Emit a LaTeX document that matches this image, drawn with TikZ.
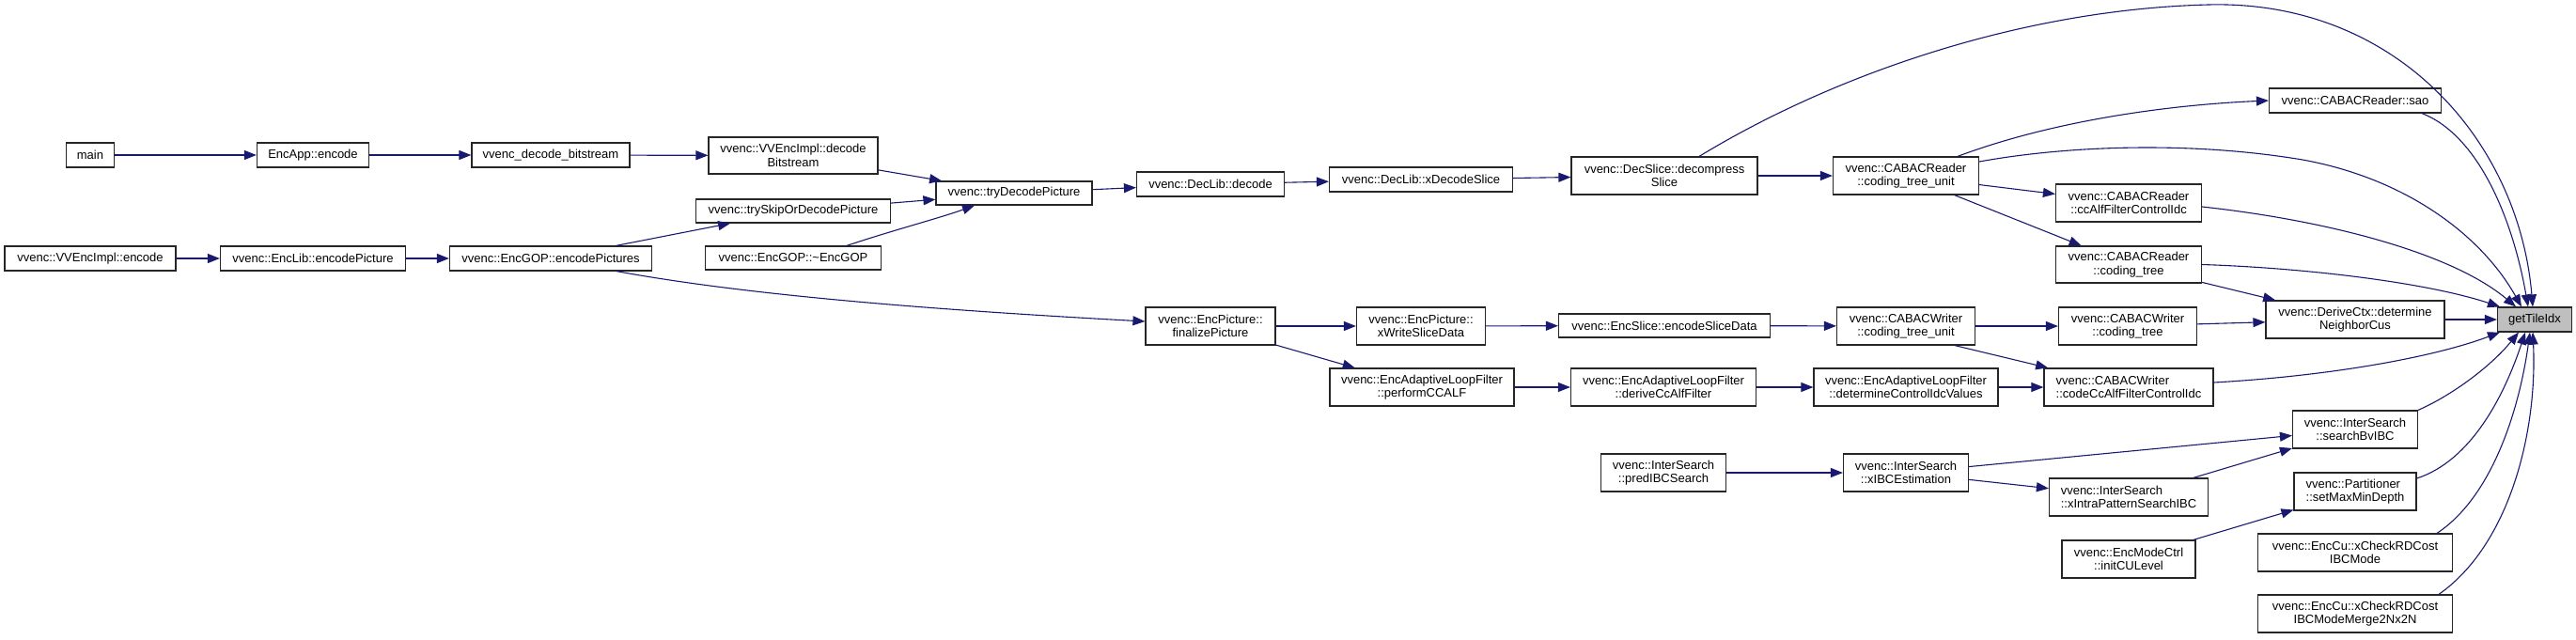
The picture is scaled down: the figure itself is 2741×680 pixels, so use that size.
\documentclass[tikz,border=0pt]{standalone}
\usepackage{fontspec}
\setmainfont{Liberation Sans}
\usepackage{xcolor}
\definecolor{CallNavy}{HTML}{191970}
\definecolor{CallGray}{HTML}{BFBFBF}
\usetikzlibrary{arrows.meta}
\tikzset{
  fnbox/.style={draw=black!85,line width=1.2pt,fill=white,align=center,inner sep=0pt,minimum height=26pt,font=\fontsize{13}{14.5}\selectfont},
  fnboxtwo/.style={fnbox,minimum height=40pt},
  fnroot/.style={fnbox,fill=CallGray},
  callflow/.style={-{Triangle[length=13pt,width=10pt]},draw=CallNavy,line width=1.1pt}
}

\begin{document}
\begin{tikzpicture}[x=1pt,y=-1pt]
  \useasboundingbox (0,0) rectangle (2741,680);
  % callers, left side
  \node[fnbox,minimum width=51pt] (main) at (96,165) {main};
  \node[fnbox,minimum width=119pt] (encapp) at (333,165) {EncApp::encode};
  \node[fnbox,minimum width=168pt] (decbits) at (586,165) {vvenc\_decode\_bitstream};
  \node[fnbox,minimum width=182pt] (vvencenc) at (96,275) {vvenc::VVEncImpl::encode};
  \node[fnbox,minimum width=197pt] (enclib) at (333,275) {vvenc::EncLib::encodePicture};
  \node[fnbox,minimum width=215pt] (encgop) at (586,275) {vvenc::EncGOP::encodePictures};
  \node[fnboxtwo,minimum width=180pt,minimum height=39pt] (decodebits) at (844,165.5) {vvenc::VVEncImpl::decode\\Bitstream};
  \node[fnbox,minimum width=207pt,minimum height=25pt] (tryskip) at (844,224.5) {vvenc::trySkipOrDecodePicture};
  \node[fnbox,minimum width=187pt,minimum height=25pt] (gopdtor) at (844,274.5) {vvenc::EncGOP::\textasciitilde EncGOP};
  \node[fnbox,minimum width=166pt,minimum height=25pt] (trydecode) at (1079,205.5) {vvenc::tryDecodePicture};
  \node[fnbox,minimum width=157pt] (declib) at (1288,196) {vvenc::DecLib::decode};
  \node[fnboxtwo,minimum width=138pt] (finalize) at (1288,347) {vvenc::EncPicture::\\finalizePicture};
  % middle columns
  \node[fnbox,minimum width=195pt] (xdecslice) at (1512,191) {vvenc::DecLib::xDecodeSlice};
  \node[fnboxtwo,minimum width=198pt] (decompress) at (1771,187) {vvenc::DecSlice::decompress\\Slice};
  \node[fnboxtwo,minimum width=155pt] (rdctu) at (2028,187) {vvenc::CABACReader\\::coding\_tree\_unit};
  \node[fnboxtwo,minimum width=137pt] (xwrite) at (1512,347) {vvenc::EncPicture::\\xWriteSliceData};
  \node[fnbox,minimum width=225pt,minimum height=25pt] (encslice) at (1771,346.5) {vvenc::EncSlice::encodeSliceData};
  \node[fnboxtwo,minimum width=147pt] (wrctu) at (2028,347) {vvenc::CABACWriter\\::coding\_tree\_unit};
  \node[fnboxtwo,minimum width=196pt] (ccalf) at (1513,412) {vvenc::EncAdaptiveLoopFilter\\::performCCALF};
  \node[fnboxtwo,minimum width=197pt] (derivecc) at (1770,412) {vvenc::EncAdaptiveLoopFilter\\::deriveCcAlfFilter};
  \node[fnboxtwo,minimum width=196pt] (detidc) at (2028,412) {vvenc::EncAdaptiveLoopFilter\\::determineControlIdcValues};
  \node[fnboxtwo,minimum width=133pt] (predibc) at (1770,503) {vvenc::InterSearch\\::predIBCSearch};
  \node[fnboxtwo,minimum width=133pt] (xibc) at (2028,503) {vvenc::InterSearch\\::xIBCEstimation};
  % right columns
  \node[fnbox,minimum width=183pt] (sao) at (2506,107) {vvenc::CABACReader::sao};
  \node[fnboxtwo,minimum width=155pt] (rdccalf) at (2265,216) {vvenc::CABACReader\\::ccAlfFilterControlIdc};
  \node[fnboxtwo,minimum width=155pt,minimum height=39pt] (rdtree) at (2265,281.5) {vvenc::CABACReader\\::coding\_tree};
  \node[fnboxtwo,minimum width=147pt] (wrtree) at (2264,347) {vvenc::CABACWriter\\::coding\_tree};
  \node[fnboxtwo,minimum width=180pt,align=left] (wrccalf) at (2265,412) {vvenc::CABACWriter\\::codeCcAlfFilterControlIdc};
  \node[fnboxtwo,minimum width=169pt,align=left] (xintra) at (2265,529) {vvenc::InterSearch\\::xIntraPatternSearchIBC};
  \node[fnboxtwo,minimum width=142pt] (initcu) at (2265,595) {vvenc::EncModeCtrl\\::initCULevel};
  \node[fnboxtwo,minimum width=190pt] (derivectx) at (2506,340) {vvenc::DeriveCtx::determine\\NeighborCus};
  \node[fnboxtwo,minimum width=133pt] (searchbv) at (2506,457) {vvenc::InterSearch\\::searchBvIBC};
  \node[fnboxtwo,minimum width=130pt,align=left] (setdepth) at (2506,523) {vvenc::Partitioner\\::setMaxMinDepth};
  \node[fnboxtwo,minimum width=207pt] (rdibc) at (2506,588) {vvenc::EncCu::xCheckRDCost\\IBCMode};
  \node[fnboxtwo,minimum width=207pt] (rdmerge) at (2506,653) {vvenc::EncCu::xCheckRDCost\\IBCModeMerge2Nx2N};
  \node[fnroot,minimum width=79pt] (tileidx) at (2697,340) {getTileIdx};

  % straight calls
  \draw[callflow] (main) -- (encapp);
  \draw[callflow] (encapp) -- (decbits);
  \draw[callflow] (decbits) -- (decodebits);
  \draw[callflow] (vvencenc) -- (enclib);
  \draw[callflow] (enclib) -- (encgop);
  \draw[callflow] (encgop) -- (tryskip);
  \draw[callflow] (decodebits) -- (trydecode);
  \draw[callflow] (tryskip) -- (trydecode);
  \draw[callflow] (trydecode) -- (declib);
  \draw[callflow] (declib) -- (xdecslice);
  \draw[callflow] (xdecslice) -- (decompress);
  \draw[callflow] (decompress) -- (rdctu);
  \draw[callflow] (finalize) -- (xwrite);
  \draw[callflow] (finalize) -- (ccalf);
  \draw[callflow] (xwrite) -- (encslice);
  \draw[callflow] (encslice) -- (wrctu);
  \draw[callflow] (ccalf) -- (derivecc);
  \draw[callflow] (derivecc) -- (detidc);
  \draw[callflow] (detidc) -- (wrccalf);
  \draw[callflow] (predibc) -- (xibc);
  \draw[callflow] (rdctu) -- (rdccalf);
  \draw[callflow] (rdctu) -- (rdtree);
  \draw[callflow] (rdtree) -- (derivectx);
  \draw[callflow] (wrctu) -- (wrtree);
  \draw[callflow] ([xshift=52pt]wrctu.south) -- (wrccalf);
  \draw[callflow] (wrtree) -- (derivectx);
  \draw[callflow] (derivectx) -- (tileidx);
  \draw[callflow] (xibc) -- (searchbv);
  \draw[callflow] (xibc) -- (xintra);
  \draw[callflow] (xintra) -- (searchbv);
  \draw[callflow] (initcu) -- (setdepth);

  % curved calls
  \draw[callflow] ([xshift=70pt]encgop.south) .. controls (800,315) and (1000,330) .. ([yshift=5pt]finalize.west);
  \draw[callflow] ([xshift=57pt]gopdtor.north) .. controls (950,245) and (1000,232) .. ([xshift=-42pt]trydecode.south);
  \draw[callflow] ([xshift=55pt]rdctu.north) .. controls (2180,130) and (2300,112) .. (sao.west);
  \draw[callflow] ([xshift=37pt]decompress.north) .. controls (1950,80) and (2150,10) .. (2350,5)
    .. controls (2550,0) and (2680,150) .. ([xshift=-2pt]tileidx.north);
  \draw[callflow] ([yshift=15pt]rdctu.east) .. controls (2200,155) and (2330,150) .. (2450,170)
    .. controls (2560,190) and (2640,250) .. ([xshift=-14pt]tileidx.north);
  \draw[callflow] ([xshift=71pt]sao.south) .. controls (2640,145) and (2675,240) .. ([xshift=-7pt]tileidx.north);
  \draw[callflow] ([yshift=-4pt]rdccalf.east) .. controls (2480,235) and (2610,270) .. ([xshift=-20pt]tileidx.north);
  \draw[callflow] (rdtree.east) .. controls (2450,285) and (2580,300) .. ([xshift=-37pt]tileidx.north);
  \draw[callflow] ([yshift=5pt]wrccalf.east) .. controls (2480,400) and (2590,380) .. ([xshift=-37pt]tileidx.south);
  \draw[callflow] (searchbv.north east) .. controls (2610,420) and (2650,390) .. ([xshift=-17pt]tileidx.south);
  \draw[callflow] ([yshift=14pt]setdepth.east) .. controls (2630,490) and (2665,420) .. ([xshift=-10pt]tileidx.south);
  \draw[callflow] ([xshift=87pt]rdibc.north) .. controls (2650,530) and (2680,440) .. ([xshift=-5pt]tileidx.south);
  \draw[callflow] ([xshift=89pt]rdmerge.north) .. controls (2670,580) and (2700,460) .. ([xshift=-2pt]tileidx.south);
\end{tikzpicture}
\end{document}
